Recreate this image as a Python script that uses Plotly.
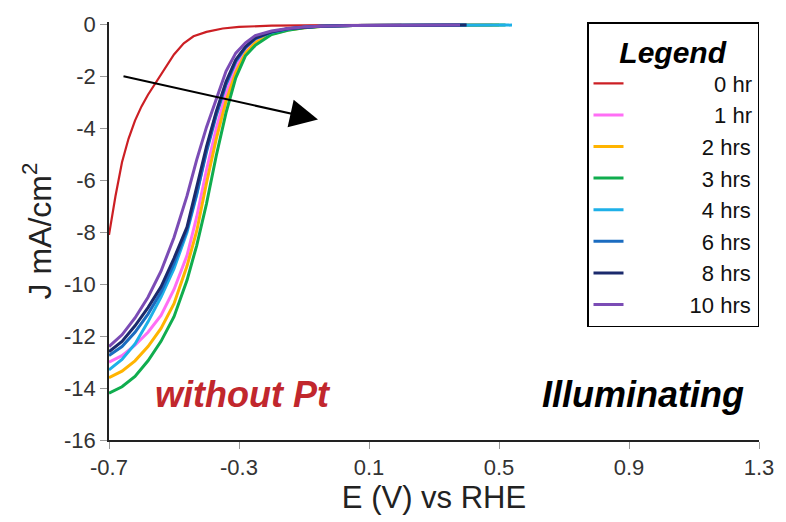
import plotly.graph_objects as go

# Potential grid (V vs RHE) shared by the time series; last point is the scan end
E_GRID = [-0.70, -0.66, -0.62, -0.58, -0.54, -0.50, -0.46, -0.43, -0.40, -0.37,
          -0.34, -0.31, -0.28, -0.25, -0.20, -0.15, -0.10, -0.05, 0.05]

# 0 hr scan (separate potential points)
E_0HR = [-0.70, -0.68, -0.66, -0.64, -0.62, -0.60, -0.58, -0.56, -0.54, -0.52,
         -0.50, -0.47, -0.44, -0.40, -0.35, -0.30, -0.20, 0.00, 0.20]
J_0HR = [-8.1, -6.6, -5.3, -4.4, -3.7, -3.15, -2.7, -2.3, -1.9, -1.5,
         -1.15, -0.72, -0.45, -0.28, -0.15, -0.09, -0.04, -0.02, -0.01]

# Current density (mA/cm^2) on E_GRID for each illumination time
J_1HR = [-13.0, -12.75, -12.35, -11.85, -11.2, -10.2, -8.9, -7.4, -5.6, -4.0,
         -2.65, -1.65, -1.0, -0.62, -0.33, -0.19, -0.11, -0.06, -0.03]
J_2HRS = [-13.6, -13.35, -12.95, -12.4, -11.7, -10.75, -9.3, -7.95, -6.1, -4.4,
          -2.95, -1.85, -1.1, -0.7, -0.36, -0.21, -0.12, -0.07, -0.03]
J_3HRS = [-14.2, -13.95, -13.55, -12.95, -12.2, -11.25, -9.85, -8.5, -6.9, -5.05,
          -3.4, -2.05, -1.2, -0.8, -0.38, -0.22, -0.12, -0.07, -0.03]
J_4HRS = [-13.3, -12.9, -12.3, -11.45, -10.5, -9.4, -8.0, -6.55, -4.8, -3.4,
          -2.3, -1.42, -0.88, -0.54, -0.3, -0.17, -0.1, -0.06, -0.03]
J_6HRS = [-12.75, -12.4, -11.85, -11.15, -10.3, -9.2, -7.9, -6.5, -4.9, -3.5,
          -2.3, -1.42, -0.88, -0.54, -0.29, -0.16, -0.1, -0.06, -0.03]
J_8HRS = [-12.6, -12.2, -11.6, -10.9, -10.1, -9.0, -7.8, -6.3, -4.7, -3.35,
          -2.2, -1.35, -0.85, -0.52, -0.28, -0.16, -0.1, -0.06, -0.03]
J_10HRS = [-12.4, -11.95, -11.3, -10.5, -9.5, -8.2, -6.6, -5.2, -3.95, -2.9,
           -1.8, -1.1, -0.7, -0.42, -0.25, -0.15, -0.09, -0.06, -0.03]

# Where each scan stops on the flat part of the curve
SCAN_END_E = [0.48, 0.50, 0.52, 0.54, 0.40, 0.40, 0.38]
SCAN_END_J = [-0.02, -0.02, -0.02, -0.02, -0.02, -0.02, -0.02]

SERIES_NAMES = ["1 hr", "2 hrs", "3 hrs", "4 hrs", "6 hrs", "8 hrs", "10 hrs"]
SERIES_J = [J_1HR, J_2HRS, J_3HRS, J_4HRS, J_6HRS, J_8HRS, J_10HRS]
SERIES_COLORS = ["#ff6ef5", "#ffb400", "#10ad4e", "#1eb0e8", "#1b6cc0", "#1b2a6c", "#7b4cb5"]

X_TICKS = [-0.7, -0.3, 0.1, 0.5, 0.9, 1.3]
Y_TICKS = [-16, -14, -12, -10, -8, -6, -4, -2, 0]

FONT = "Liberation Sans, Arial, sans-serif"
NBSP = "\u00a0"


def pad_label(text, width_nbsp):
    # right-align legend labels by left-padding with non-breaking spaces
    return NBSP * width_nbsp + text


LABEL_PAD = {"0 hr": 14, "1 hr": 14, "2 hrs": 12, "3 hrs": 12, "4 hrs": 12,
             "6 hrs": 12, "8 hrs": 12, "10 hrs": 10}

fig = go.Figure()

fig.add_trace(go.Scatter(
    x=E_0HR, y=J_0HR, mode="lines", name=pad_label("0 hr", LABEL_PAD["0 hr"]),
    line=dict(color="#cc1f24", width=2.2),
))

for name, j_vals, color, e_end, j_end in zip(SERIES_NAMES, SERIES_J, SERIES_COLORS,
                                              SCAN_END_E, SCAN_END_J):
    fig.add_trace(go.Scatter(
        x=E_GRID + [e_end], y=j_vals + [j_end], mode="lines",
        name=pad_label(name, LABEL_PAD[name]),
        line=dict(color=color, width=3),
    ))

# trend arrow across the scans
fig.add_annotation(
    x=-0.057, y=-3.66, ax=-0.66, ay=-1.98, xref="x", yref="y", axref="x", ayref="y",
    text="", showarrow=True, arrowhead=2, arrowsize=2.8, arrowwidth=2, arrowcolor="black",
)

fig.add_annotation(
    x=-0.565, y=-14.25, xref="x", yref="y", xanchor="left", yanchor="middle",
    text="<b><i>without Pt</i></b>", showarrow=False,
    font=dict(family=FONT, size=36, color="#c1272d"),
)
fig.add_annotation(
    x=1.26, y=-14.25, xref="x", yref="y", xanchor="right", yanchor="middle",
    text="<b><i>Illuminating</i></b>", showarrow=False,
    font=dict(family=FONT, size=36, color="black"),
)

fig.update_layout(
    width=786, height=522,
    margin=dict(l=109, r=27, t=17, b=82),
    paper_bgcolor="white", plot_bgcolor="white",
    font=dict(family=FONT, color="#222"),
    showlegend=True,
    legend=dict(
        x=1, y=1, xanchor="right", yanchor="top",
        bgcolor="white", bordercolor="black", borderwidth=1.5,
        font=dict(family=FONT, size=22, color="#111"),
        title=dict(text="<b><i>Legend</i></b>", side="top center",
                   font=dict(family=FONT, size=30, color="black")),
        tracegroupgap=0,
    ),
    xaxis=dict(
        range=[-0.7, 1.3], tickvals=X_TICKS, ticktext=[f"{v:.1f}" for v in X_TICKS],
        showline=True, linecolor="#222", linewidth=1.8,
        ticks="outside", ticklen=7, tickcolor="#999", tickwidth=1.2,
        showgrid=False, zeroline=False,
        tickfont=dict(family=FONT, size=22, color="#333"),
        title=dict(text="E (V) vs RHE", font=dict(family=FONT, size=31, color="#222"),
                   standoff=5),
    ),
    yaxis=dict(
        range=[-16, 0.1], tickvals=Y_TICKS, ticktext=[str(v) for v in Y_TICKS],
        showline=True, linecolor="#222", linewidth=1.8,
        ticks="outside", ticklen=7, tickcolor="#999", tickwidth=1.2,
        showgrid=False, zeroline=False,
        tickfont=dict(family=FONT, size=22, color="#333"),
        title=dict(text="J mA/cm<sup>2</sup>", font=dict(family=FONT, size=32, color="#222"),
                   standoff=3),
    ),
)

fig.write_html("out.html")
